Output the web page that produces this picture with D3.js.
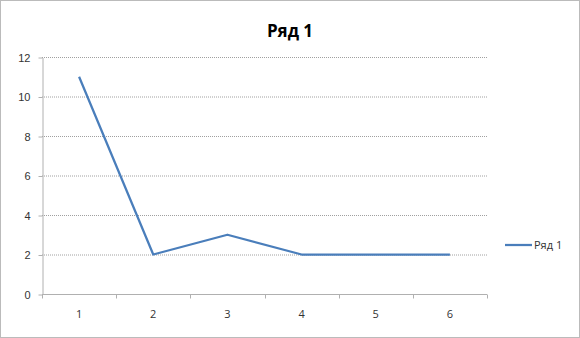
<!DOCTYPE html>
<html lang="ru"><head><meta charset="utf-8">
<script src="https://d3js.org/d3.v7.min.js"></script>
<style>
  body { margin: 0; background: #fff; }
  svg { display: block; font-family: "Open Sans", "DejaVu Sans", sans-serif; }
  .grid line { stroke: #a0a0a0; stroke-dasharray: 1,1; }
  .axis text { fill: #333; font-size: 11px; }
</style>
</head><body>
<div id="chart"></div>
<script>
// data
var categories = ["1", "2", "3", "4", "5", "6"];
var values = [11, 2, 3, 2, 2, 2];
var yTicks = [0, 2, 4, 6, 8, 10, 12];
var seriesName = "Ряд 1";

var W = 580, H = 338;
var margin = { top: 57, right: 93, bottom: 44, left: 42 };

var svg = d3.select("#chart").append("svg")
    .attr("width", W).attr("height", H);

// outer frame
svg.append("rect")
    .attr("x", 0.5).attr("y", 0.5)
    .attr("width", W - 1).attr("height", H - 1)
    .attr("fill", "#fff")
    .attr("stroke", "#777")
    .attr("stroke-dasharray", "1,1");

var x = d3.scaleBand()
    .domain(categories)
    .range([margin.left, W - margin.right]);

var y = d3.scaleLinear()
    .domain([0, 12])
    .range([H - margin.bottom, margin.top]);

// horizontal gridlines
svg.append("g").attr("class", "grid")
  .selectAll("line")
  .data(yTicks.filter(d => d > 0))
  .join("line")
    .attr("x1", margin.left).attr("x2", W - margin.right)
    .attr("y1", d => y(d) + 0.5).attr("y2", d => y(d) + 0.5);

// y axis
var gy = svg.append("g").attr("class", "axis")
    .attr("transform", `translate(${margin.left + 0.5},0.5)`)
    .call(d3.axisLeft(y).tickValues(yTicks).tickSize(4).tickPadding(8).tickSizeOuter(0));
gy.selectAll("line, path").attr("stroke", "#b0b0b0");

// x axis: ticks at band edges, labels at band centres
var gx = svg.append("g").attr("class", "axis")
    .attr("transform", `translate(0,${H - margin.bottom + 0.5})`);
gx.append("line")
    .attr("x1", margin.left).attr("x2", W - margin.right)
    .attr("stroke", "#b0b0b0");
var edges = categories.map(c => x(c)).concat([x.range()[1]]);
gx.selectAll(".edge").data(edges).join("line")
    .attr("class", "edge")
    .attr("x1", d => Math.round(d) + 0.5).attr("x2", d => Math.round(d) + 0.5)
    .attr("y1", 0).attr("y2", 4)
    .attr("stroke", "#b0b0b0");
gx.selectAll("text").data(categories).join("text")
    .attr("x", d => x(d) + x.bandwidth() / 2)
    .attr("y", 23)
    .attr("text-anchor", "middle")
    .text(d => d);

// series line
var line = d3.line()
    .x((d, i) => x(categories[i]) + x.bandwidth() / 2)
    .y(d => y(d));

svg.append("path")
    .datum(values)
    .attr("fill", "none")
    .attr("stroke", "#4a7ebb")
    .attr("stroke-width", 2.25)
    .attr("stroke-linejoin", "round")
    .attr("d", line);

// title
svg.append("text")
    .attr("x", 290).attr("y", 37)
    .attr("text-anchor", "middle")
    .attr("font-size", 17).attr("font-weight", "bold")
    .attr("fill", "#000")
    .text(seriesName);

// legend
var lg = svg.append("g").attr("transform", "translate(505,245)");
lg.append("line").attr("x1", 0).attr("x2", 27)
    .attr("stroke", "#4a7ebb").attr("stroke-width", 2.25);
lg.append("text").attr("x", 29).attr("y", 4)
    .attr("font-size", 11).attr("fill", "#333")
    .text(seriesName);
</script>
</body></html>
